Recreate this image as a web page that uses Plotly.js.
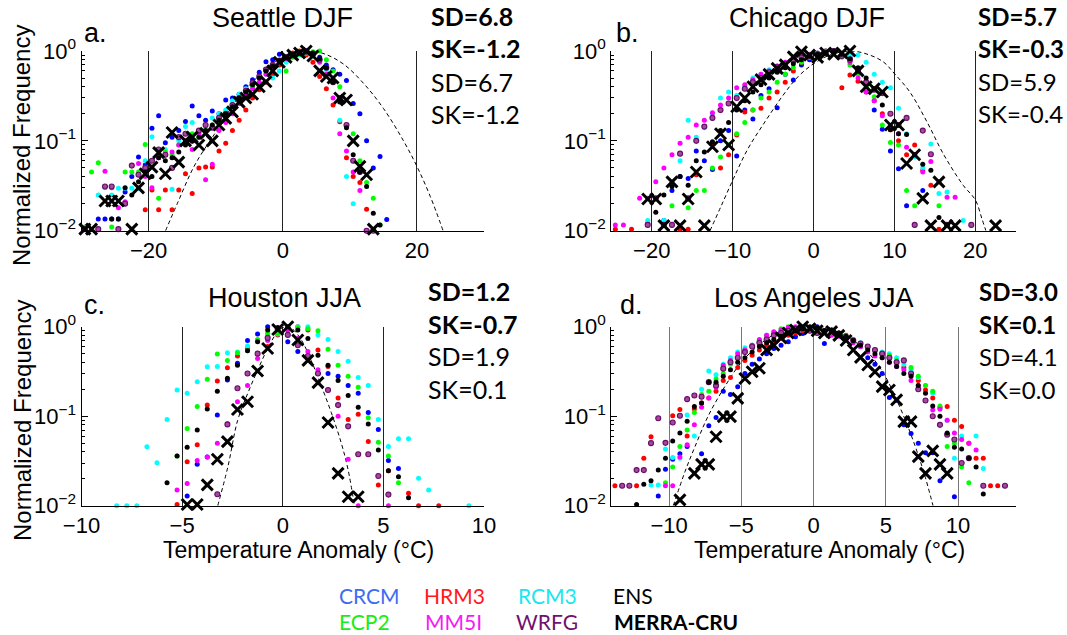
<!DOCTYPE html>
<html>
<head>
<meta charset="utf-8">
<script src="https://cdn.plot.ly/plotly-3.0.1.min.js"></script>
<style>html,body{margin:0;padding:0;background:#fff}#chart{width:1067px;height:635px}</style>
</head>
<body>
<div id="chart"></div>
<script>
// ---------------- DATA ----------------
const modelNames = ['CRCM','HRM3','RCM3','ECP2','MM5I','WRFG','ENS'];
const obsName = 'MERRA-CRU';

// Seattle DJF (bin centres, degC)
const seattleBins = [-29.5,-28.5,-27.5,-26.5,-25.5,-24.5,-23.5,-22.5,-21.5,-20.5,-19.5,-18.5,-17.5,-16.5,-15.5,-14.5,-13.5,-12.5,-11.5,-10.5,-9.5,-8.5,-7.5,-6.5,-5.5,-4.5,-3.5,-2.5,-1.5,-0.5,0.5,1.5,2.5,3.5,4.5,5.5,6.5,7.5,8.5,9.5,10.5,11.5,12.5,13.5,14.5,15.5];
const seattle_CRCM = [null,null,.0135,.0135,.0135,.0135,.027,.04,.066,.054,.138,.19,.095,.11,.13,.164,.244,.19,.17,.215,.2,.285,.3,.33,.4,.48,.58,.76,.8,.92,.85,.9,.95,1,.93,.85,.7,.62,.55,.47,.26,.2,.1,.05,.067,.0133];
const seattle_HRM3 = [null,null,null,null,null,null,null,null,null,.0171,.0283,.0171,.0283,.0171,.0283,.043,.026,.05,.051,.051,.077,.094,.13,.17,.22,.3,.37,.45,.55,.7,.85,.95,1,.9,.75,.52,.38,.25,.163,.065,.04,.0345,.0173,null,null,null];
const seattle_RCM3 = [null,null,.025,.03,.025,.0296,.0296,.0296,.0296,.06,.111,.07,.08,.029,.1,.144,.16,.12,.14,.18,.2,.22,.28,.33,.38,.42,.5,.55,.5,.6,.75,.85,.9,.95,.88,.8,.62,.45,.17,.04,.02,null,null,null,null,null];
const seattle_ECP2 = [.011,.045,.057,null,.011,null,.045,.045,.045,.091,.06,.0229,.075,.07,.09,.1,.12,.11,.13,.15,.16,.2,.24,.3,.35,.4,.5,.6,.7,.8,.6,.85,.92,.95,.98,1,.8,.6,.4,.148,.12,.06,.0345,.023,.0116,null];
const seattle_MM5I = [null,null,null,.046,.03,.018,.021,.053,.056,.04,.03,.065,.07,.075,.09,.1,.08,.12,.037,.055,.13,.16,.2,.26,.32,.38,.45,.55,.65,.75,.82,.9,.95,1,.9,.75,.55,.3,.12,.077,.045,.028,.01,null,null,null];
const seattle_WRFG = [.0104,null,.0104,.031,.031,.0104,.02,.053,.042,.05,.06,.08,.07,.05,.11,.12,.1,.13,.15,.14,.18,.2,.25,.3,.36,.44,.52,.62,.7,.78,.85,.9,.95,.98,.93,.8,.65,.45,.3,.15,.06,.045,.01,.01,null,null];
const seattle_ENS  = [null,null,null,null,.0135,.0135,.03,.025,.035,.045,.04,.065,.06,.065,.075,.09,.1,.11,.13,.15,.17,.2,.24,.3,.35,.42,.5,.6,.68,.78,.85,.92,.97,1,.95,.82,.65,.45,.27,.14,.07,.045,.031,.0156,.0116,null];
const seattle_OBS  = [.0104,.0104,null,.0214,.0214,.0214,null,.0104,.03,.043,.051,.074,.043,.124,.058,.1,.11,.09,.121,.1,.15,.178,.21,.27,.3,.33,.4,.455,.6,.75,.85,.9,.95,1,.88,.6,.52,.5,.3,.285,.1,.052,.042,.0104,null,null];
const seattleFitX = [-17.47,-15.6,-13.1,-9.6,-6.65,-3.67,-1.2,1,3.5,6,9,12,15,18,20,22,23.9];
const seattleFitY = [0.01,0.021,0.054,0.138,0.30,0.52,0.76,0.9,1.0,0.94,0.72,0.44,0.23,0.1,0.052,0.024,0.01];

// Chicago DJF
const chicagoBins = [-24.5,-23.5,-22.5,-21.5,-20.5,-19.5,-18.5,-17.5,-16.5,-15.5,-14.5,-13.5,-12.5,-11.5,-10.5,-9.5,-8.5,-7.5,-6.5,-5.5,-4.5,-3.5,-2.5,-1.5,-0.5,0.5,1.5,2.5,3.5,4.5,5.5,6.5,7.5,8.5,9.5,10.5,11.5,12.5,13.5,14.5,15.5,16.5,17.5,18.5,19.5,20.5,21.5,22.5];
const chicago_CRCM = [null,null,null,null,.012,null,.013,.028,.04,.038,.077,.06,.048,.1,.13,.068,.22,.175,.32,.38,.234,.55,.475,.7,.8,.88,.95,1,.92,.85,.62,.45,.22,.135,.077,.049,.019,null,.028,null,null,null,null,null,null,null,null,null];
const chicago_HRM3 = [.0104,null,.0104,null,null,null,null,null,.0104,.0104,.042,null,.094,.05,.07,.116,.21,.22,.23,.3,.35,.45,.6,.75,.85,.9,1,.95,.39,.54,.46,.35,.28,.2,.133,.1,.07,.09,.047,.032,.0104,null,null,null,null,null,null,null];
const chicago_RCM3 = [null,null,null,null,.013,null,.013,.035,.06,.17,.11,.14,.2,.3,.35,.32,.4,.5,.55,.62,.68,.72,.8,.85,.9,.95,1,.95,.92,.9,.9,.75,.55,.45,.39,.23,.12,.066,.05,.092,.026,.027,null,.013,null,null,null,null];
const chicago_ECP2 = [null,null,null,null,null,null,null,.019,null,.018,.028,.028,.05,.066,.09,.12,.16,.22,.3,.35,.45,.55,.65,.75,.85,.92,1,.95,.85,.7,.56,.4,.31,.15,.096,.09,.028,.019,null,null,.019,null,null,null,null,null,null,null];
const chicago_MM5I = [.0116,.0116,null,.0229,.0229,.035,.05,.07,.094,.11,.15,.17,.206,.25,.3,.39,.42,.48,.55,.6,.68,.75,.8,.88,.92,.95,1,.95,.9,.75,.5,.35,.28,.19,.144,.12,.085,.07,.045,.059,.035,.0235,.0235,null,null,null,null,null];
const chicago_WRFG = [null,null,null,null,.0116,.0229,.0116,.0116,.072,.0229,.1,.144,.18,.22,.26,.3,.38,.45,.5,.58,.66,.72,.78,.85,.88,.92,.95,1,.88,.8,.6,.45,.37,.34,.2,.15,.18,.0116,.13,.071,null,.0116,null,null,.0116,null,null,null];
const chicago_ENS  = [null,null,null,null,null,.016,.025,.031,.04,.032,.06,.075,.098,.13,.16,.22,.28,.35,.42,.5,.58,.65,.72,.8,.88,.92,.95,1,.92,.82,.65,.5,.38,.25,.133,.12,.118,.07,.055,.047,.014,.0116,null,null,null,null,null,null];
const chicago_OBS  = [null,null,null,null,.0225,.0225,.0114,.035,.0114,.0225,.045,.0114,.086,.12,.09,.24,.3,.4,.48,.55,.64,.7,.86,.98,.9,.85,.95,.92,.95,1,.6,.4,.38,.35,.15,.15,.056,.07,.0229,.0114,.035,.0114,.0114,null,null,null,null,.0114];
const chicagoFitX = [-12.8,-11.4,-9.9,-8.1,-6,-3.9,-1.9,0,2,4.5,6.5,8.6,10,11.9,14,16.1,18.5,20,20.8,21.3];
const chicagoFitY = [0.01,0.019,0.038,0.082,0.163,0.31,0.52,0.72,0.9,1.0,0.93,0.76,0.56,0.35,0.164,0.07,0.032,0.022,0.0137,0.01];

// Houston JJA
const houstonBins = [-8.25,-7.75,-7.25,-6.75,-6.25,-5.75,-5.25,-4.75,-4.25,-3.75,-3.25,-2.75,-2.25,-1.75,-1.25,-0.75,-0.25,0.25,0.75,1.25,1.75,2.25,2.75,3.25,3.75,4.25,4.75,5.25,5.75,6.25,6.75,7.25,7.75,8.25,8.75,9.25];
const houston_CRCM = [null,null,null,null,null,null,null,.0128,.029,.035,.103,.253,.39,.7,.83,1,.92,.68,.53,.45,.3,.3,.28,.22,.18,.11,.071,.032,.026,null,null,null,null,null,null,null];
const houston_HRM3 = [null,null,null,null,null,null,.0103,.031,.048,.133,.247,.348,.47,.57,.7,.6,.81,.98,1,.92,.55,.36,.16,.092,.105,.052,.017,.0245,null,.0138,.01,null,.01,null,null,null];
const houston_RCM3 = [.01,.01,.01,.0456,.0302,.092,.196,.18,.243,.357,.36,.51,.52,.61,.71,.83,.83,.98,1,1,.81,.72,.53,.41,.27,.22,.092,.046,.056,.056,.0203,.015,null,null,null,.01];
const houston_ECP2 = [null,null,null,null,null,null,.036,.073,.128,.258,.495,.42,.51,.54,.72,.84,.84,.96,.98,.95,.9,.56,.37,.28,.21,.096,.051,.036,.018,null,null,null,null,null,null,null];
const houston_MM5I = [null,null,null,null,null,null,.015,.0177,.032,.035,.05,.082,.145,.22,.44,.7,.96,.92,.74,.53,.33,.196,.1,.033,.01,null,null,.01,null,null,null,null,null,null,null,null];
const houston_WRFG = [null,null,null,null,null,null,null,null,null,null,.0134,.081,.205,.3,.5,.75,.95,.81,.62,.47,.3,.196,.133,.077,.0375,.0375,.0215,.0133,null,null,null,null,null,null,null,null];
const houston_ENS  = [null,null,null,null,null,.018,.036,.045,.07,.12,.19,.265,.37,.54,.68,.92,.98,1,.92,.74,.48,.37,.25,.17,.126,.082,.042,.0245,.021,.0123,null,null,null,null,null,null];
const houston_OBS  = [null,null,null,null,null,null,null,.0103,.0103,.0171,.033,.052,.119,.145,.32,.57,.93,1,.71,.42,.237,.085,.023,.0126,.0126,null,null,null,null,null,null,null,null,null,null,null];
const houstonFitX = [-3.23,-2.73,-2.24,-1.74,-1.24,-0.75,-0.25,0.1,0.41,0.91,1.41,1.91,2.41,2.91,3.25,3.56];
const houstonFitY = [0.01,0.027,0.09,0.18,0.33,0.57,0.88,1.0,0.97,0.72,0.42,0.22,0.11,0.05,0.025,0.01];

// Los Angeles JJA
const laBins = [-13.75,-13.25,-12.75,-12.25,-11.75,-11.25,-10.75,-10.25,-9.75,-9.25,-8.75,-8.25,-7.75,-7.25,-6.75,-6.25,-5.75,-5.25,-4.75,-4.25,-3.75,-3.25,-2.75,-2.25,-1.75,-1.25,-0.75,-0.25,0.25,0.75,1.25,1.75,2.25,2.75,3.25,3.75,4.25,4.75,5.25,5.75,6.25,6.75,7.25,7.75,8.25,8.75,9.25,9.75,10.25,10.75,11.25,11.75,12.25,12.75,13.25];
const la_CRCM = [null,null,null,null,null,null,.0128,.0256,.033,.038,.046,null,.038,.078,.097,.19,.175,.214,.3,.38,.435,.5,.57,.62,.68,.77,.84,.95,1,.65,.9,.85,.75,.7,.6,.45,.38,.3,.162,.151,.08,.064,.05,.039,.039,.019,null,.0126,null,null,null,null,null,null,null];
const la_HRM3 = [.0167,null,null,.0167,.034,.059,null,null,.101,.119,.06,.12,.14,.16,.19,.25,.27,.35,.42,.48,.55,.62,.68,.74,.8,.85,.9,.98,.95,.88,.92,.85,.8,.72,.65,.6,.55,.5,.45,.4,.35,.3,.25,.196,.16,.125,.128,.09,.0765,.05,.034,.034,.0167,.0167,null];
const la_RCM3 = [null,null,null,null,null,.017,.017,.043,.0345,.034,.103,.06,.2,.32,.29,.38,.45,.52,.58,.62,.7,.8,.85,.9,.95,.98,1,.95,.92,.88,.85,.8,.78,.72,.66,.6,.55,.52,.5,.45,.38,.33,.27,.22,.18,.12,.09,.034,.06,null,.06,.026,null,null,null];
const la_ECP2 = [null,null,null,null,null,null,null,.018,.027,.046,.07,.11,.175,.19,.26,.3,.38,.45,.55,.62,.7,.78,.85,.95,1,.96,.95,.92,.9,.88,.85,.82,.78,.72,.65,.59,.55,.5,.48,.42,.42,.35,.28,.22,.19,.13,.046,.05,.027,.018,null,null,null,null,null];
const la_MM5I = [null,null,null,null,null,null,null,.0167,.0167,.035,.048,.08,.126,.16,.21,.37,.42,.5,.55,.62,.72,.8,.88,.92,.98,1,.95,.92,.88,.85,.8,.78,.72,.66,.6,.52,.47,.45,.4,.36,.33,.25,.22,.15,.117,.12,.09,.065,.055,.05,.042,null,null,null,null];
const la_WRFG = [null,.0167,.0167,.025,.025,.05,.095,.0504,.085,.101,.155,.17,.165,.24,.22,.34,.4,.45,.52,.6,.66,.72,.8,.85,.9,.95,.98,.9,.85,.88,.9,.82,.75,.7,.65,.6,.55,.5,.45,.4,.42,.3,.2,.15,.1,.08,.062,.055,.03,.034,null,.0167,null,null,.0167];
const la_ENS  = [null,null,null,.0103,.0174,.019,.025,.034,.053,.065,.088,.128,.14,.24,.24,.28,.33,.4,.45,.52,.6,.66,.72,.78,.85,.9,.95,1,.97,.9,.92,.85,.78,.7,.62,.55,.5,.45,.4,.36,.3,.28,.22,.18,.13,.1,.065,.045,.043,.034,.027,.0135,null,null,null];
const la_OBS  = [null,null,null,null,null,null,null,null,null,.0116,null,.023,.029,.029,.059,.099,.099,.158,.264,.314,.343,.549,.62,.75,.85,.92,1,.95,.9,.85,.88,.8,.7,.549,.454,.373,.314,.214,.196,.152,.087,.087,.0353,.023,.041,.029,.023,null,null,null,null,null,null,null,null];
const laFitX = [-9.71,-8.9,-8.2,-7.3,-6.1,-5.0,-3.8,-2.7,-1.3,0,1.4,2.5,3.7,4.85,5.77,6.7,7.62,8.27];
const laFitY = [0.01,0.024,0.046,0.1,0.22,0.4,0.62,0.82,0.97,0.99,0.9,0.74,0.53,0.3,0.15,0.065,0.024,0.01];

// Text
const panelTitles = ['Seattle DJF','Chicago DJF','Houston JJA','Los Angeles JJA'];
const panelLetters = ['a.','b.','c.','d.'];
const obsStats = [['SD=6.8','SK=-1.2'],['SD=5.7','SK=-0.3'],['SD=1.2','SK=-0.7'],['SD=3.0','SK=0.1']];
const ensStats = [['SD=6.7','SK=-1.2'],['SD=5.9','SK=-0.4'],['SD=1.9','SK=0.1'],['SD=4.1','SK=0.0']];

// ---------------- STYLE ----------------
const dotColors = {CRCM:'#0000ff',HRM3:'#ff0000',RCM3:'#00ffff',ECP2:'#00ff00',MM5I:'#ff00ff',WRFG:'#a04a98',ENS:'#000000'};
const legendColors = {CRCM:'#3d6cf2',HRM3:'#ff1a1a',RCM3:'#19e6ee',ECP2:'#14ee14',MM5I:'#f51af5',WRFG:'#6e1070',ENS:'#000000'};
const W = 1067, H = 635;
const px = x => x / W, py = y => 1 - y / H;
const ARIAL = 'Liberation Sans, Arial, Helvetica, sans-serif';
const CAL = 'Lato, Carlito, Calibri, sans-serif';

const panels = [
  {bins:seattleBins, d:{CRCM:seattle_CRCM,HRM3:seattle_HRM3,RCM3:seattle_RCM3,ECP2:seattle_ECP2,MM5I:seattle_MM5I,WRFG:seattle_WRFG,ENS:seattle_ENS}, obs:seattle_OBS, fx:seattleFitX, fy:seattleFitY},
  {bins:chicagoBins, d:{CRCM:chicago_CRCM,HRM3:chicago_HRM3,RCM3:chicago_RCM3,ECP2:chicago_ECP2,MM5I:chicago_MM5I,WRFG:chicago_WRFG,ENS:chicago_ENS}, obs:chicago_OBS, fx:chicagoFitX, fy:chicagoFitY},
  {bins:houstonBins, d:{CRCM:houston_CRCM,HRM3:houston_HRM3,RCM3:houston_RCM3,ECP2:houston_ECP2,MM5I:houston_MM5I,WRFG:houston_WRFG,ENS:houston_ENS}, obs:houston_OBS, fx:houstonFitX, fy:houstonFitY},
  {bins:laBins, d:{CRCM:la_CRCM,HRM3:la_HRM3,RCM3:la_RCM3,ECP2:la_ECP2,MM5I:la_MM5I,WRFG:la_WRFG,ENS:la_ENS}, obs:la_OBS, fx:laFitX, fy:laFitY}
];

const traces = [];
panels.forEach((p, i) => {
  const xa = i === 0 ? 'x' : 'x' + (i + 1);
  const ya = i === 0 ? 'y' : 'y' + (i + 1);
  traces.push({x:p.fx, y:p.fy, xaxis:xa, yaxis:ya, mode:'lines', type:'scatter',
    line:{color:'#000', width:1, dash:'4px,3px', shape:'spline', smoothing:1}, hoverinfo:'skip'});
  modelNames.forEach(m => {
    const mk = {color:dotColors[m], size:5, line:{width:0}};
    if (m === 'WRFG') { mk.size = 5; mk.line = {color:'#6a0a6a', width:1.1}; }
    traces.push({x:p.bins, y:p.d[m], xaxis:xa, yaxis:ya, mode:'markers', type:'scatter', name:m,
      marker:mk, cliponaxis:false});
  });
  traces.push({x:p.bins, y:p.obs, xaxis:xa, yaxis:ya, mode:'markers', type:'scatter', name:obsName,
    marker:{symbol:'x-thin-open', size:11, color:'#000', line:{color:'#000', width:3}}, cliponaxis:false});
});

function xAxis(domain, range, dtick, anchor, gridcolor) {
  return {domain, range, anchor, tickmode:'linear', tick0:0, dtick, showgrid:true, gridcolor, gridwidth:1,
    zeroline:false, showline:true, linecolor:'#000', linewidth:1, ticks:'', mirror:false,
    tickfont:{family:ARIAL, size:22, color:'#000'}, fixedrange:true};
}
function yAxis(domain, anchor) {
  return {domain, anchor, type:'log', range:[-2, 0], tickmode:'array', tickvals:[0.01, 0.1, 1],
    ticktext:['10<sup>−2</sup>','10<sup>−1</sup>','10<sup>0</sup>'], ticks:'inside', ticklen:6, tickcolor:'#000',
    showgrid:false, zeroline:false, showline:true, linecolor:'#000', linewidth:1, mirror:false,
    tickfont:{family:ARIAL, size:22, color:'#000'}, fixedrange:true,
    minor:{ticks:'inside', ticklen:3, tickcolor:'#000', dtick:'D1', showgrid:false}};
}

const xL = [px(81.5), px(484)], xR = [px(611.3), px(1015.8)];
const yT = [py(230.7), py(51)], yB = [py(505.7), py(326.7)];

const annotations = [];
function txt(text, x, y, opts) {
  annotations.push(Object.assign({text, x:px(x), y:py(y), xref:'paper', yref:'paper', showarrow:false,
    xanchor:'left', yanchor:'middle', borderpad:0, font:{family:ARIAL, size:22, color:'#000'}}, opts || {}));
}
// titles
txt(panelTitles[0], 282.5, 18, {xanchor:'center', font:{family:ARIAL, size:27, color:'#000'}});
txt(panelTitles[1], 807, 18, {xanchor:'center', font:{family:ARIAL, size:27, color:'#000'}});
txt(panelTitles[2], 284, 298, {xanchor:'center', font:{family:ARIAL, size:27, color:'#000'}});
txt(panelTitles[3], 814, 298, {xanchor:'center', font:{family:ARIAL, size:27, color:'#000'}});
// letters
txt(panelLetters[0], 83, 33, {font:{family:ARIAL, size:27, color:'#000'}});
txt(panelLetters[1], 615, 33, {font:{family:ARIAL, size:27, color:'#000'}});
txt(panelLetters[2], 83, 305, {font:{family:ARIAL, size:27, color:'#000'}});
txt(panelLetters[3], 619, 305, {font:{family:ARIAL, size:27, color:'#000'}});
// stats
const statPos = [[430, [16, 48, 82, 114], 25], [977, [16, 48, 82, 114], 24], [427, [291, 324, 356, 389], 25], [978, [291, 324, 356, 389], 24]];
statPos.forEach((sp, i) => {
  const [x, ys, fs] = sp;
  txt('<b>' + obsStats[i][0] + '</b>', x, ys[0], {font:{family:CAL, size:fs, color:'#000'}});
  txt('<b>' + obsStats[i][1] + '</b>', x, ys[1], {font:{family:CAL, size:fs, color:'#000'}});
  txt(ensStats[i][0], x, ys[2], {font:{family:CAL, size:fs, color:'#000'}});
  txt(ensStats[i][1], x, ys[3], {font:{family:CAL, size:fs, color:'#000'}});
});
// axis titles
txt('Normalized Frequency', 22, 146, {xanchor:'center', textangle:-90, font:{family:ARIAL, size:24, color:'#000'}});
txt('Normalized Frequency', 22, 421, {xanchor:'center', textangle:-90, font:{family:ARIAL, size:24, color:'#000'}});
txt('Temperature Anomaly (°C)', 298, 550, {xanchor:'center', font:{family:ARIAL, size:23, color:'#000'}});
txt('Temperature Anomaly (°C)', 829, 550, {xanchor:'center', font:{family:ARIAL, size:23, color:'#000'}});
// legend
const legendPos = {CRCM:[338,595], HRM3:[423,595], RCM3:[517,595], ENS:[612,595], ECP2:[338,621], MM5I:[424,621], WRFG:[515,621]};
modelNames.forEach(m => {
  txt(m, legendPos[m][0], legendPos[m][1], {font:{family:CAL, size:21, color:legendColors[m]}});
});
txt('<b>' + obsName + '</b>', 613, 621, {font:{family:CAL, size:21, color:'#000'}});

const layout = {
  width:W, height:H, margin:{l:0, r:0, t:0, b:0}, paper_bgcolor:'#fff', plot_bgcolor:'#fff', showlegend:false,
  xaxis: xAxis(xL, [-30, 30], 20, 'y', '#222'),
  yaxis: yAxis(yT, 'x'),
  xaxis2: xAxis(xR, [-25, 25], 10, 'y2', '#222'),
  yaxis2: yAxis(yT, 'x2'),
  xaxis3: xAxis(xL, [-10, 10], 5, 'y3', '#222'),
  yaxis3: yAxis(yB, 'x3'),
  xaxis4: xAxis(xR, [-14, 14], 5, 'y4', '#777'),
  yaxis4: yAxis(yB, 'x4'),
  annotations
};
Plotly.newPlot('chart', traces, layout, {staticPlot:true, displayModeBar:false});
</script>
</body>
</html>
